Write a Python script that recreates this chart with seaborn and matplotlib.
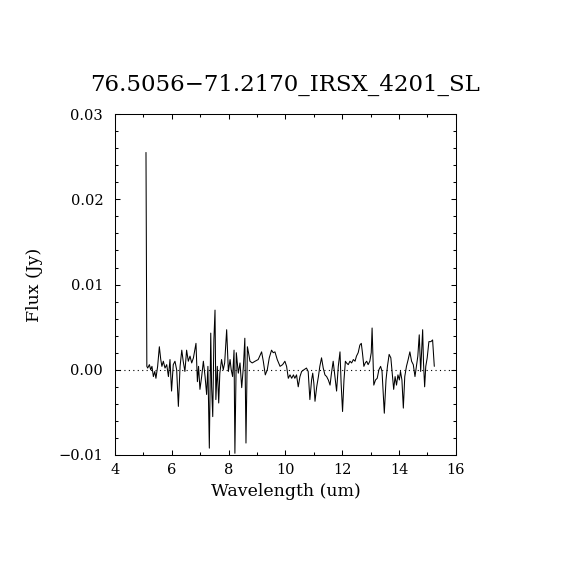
import numpy as np
import pandas as pd
import matplotlib
matplotlib.use("Agg")
import matplotlib.pyplot as plt
import seaborn as sns
from matplotlib.ticker import MultipleLocator

# spectrum (wavelength um, flux in mJy -> Jy below)
wave = [5.09, 5.12, 5.15, 5.21, 5.255, 5.30, 5.35, 5.40, 5.44, 5.50, 5.56, 5.61, 5.65, 5.70,
        5.76, 5.82, 5.88, 5.935, 5.99, 6.05, 6.11, 6.17, 6.23, 6.29, 6.35, 6.40, 6.46, 6.52,
        6.58, 6.64, 6.70, 6.76, 6.85, 6.90, 6.94, 6.99, 7.05, 7.11, 7.17, 7.225, 7.27, 7.32,
        7.37, 7.40, 7.44, 7.48, 7.52, 7.55, 7.60, 7.65, 7.69, 7.75, 7.81, 7.86, 7.93, 7.99,
        8.05, 8.09, 8.14, 8.19, 8.22, 8.27, 8.34, 8.40, 8.46, 8.52, 8.57, 8.61, 8.66, 8.70,
        8.75, 8.83, 8.93, 9.04, 9.16, 9.22, 9.29, 9.36, 9.43, 9.51, 9.57, 9.63, 9.71, 9.81,
        9.90, 9.98, 10.04, 10.10, 10.16, 10.22, 10.28, 10.33, 10.39, 10.45, 10.51, 10.57,
        10.65, 10.74, 10.80, 10.86, 10.92, 10.96, 11.00, 11.04, 11.10, 11.16, 11.21, 11.27,
        11.33, 11.39, 11.45, 11.51, 11.57, 11.62, 11.68, 11.74, 11.80, 11.86, 11.92, 11.96,
        12.01, 12.06, 12.11, 12.15, 12.21, 12.27, 12.33, 12.39, 12.45, 12.50, 12.56, 12.62,
        12.67, 12.71, 12.76, 12.81, 12.86, 12.91, 12.97, 13.02, 13.05, 13.11, 13.17, 13.23,
        13.29, 13.35, 13.40, 13.48, 13.54, 13.59, 13.65, 13.71, 13.77, 13.81, 13.86, 13.91,
        13.96, 14.01, 14.05, 14.10, 14.15, 14.20, 14.26, 14.32, 14.38, 14.44, 14.50, 14.56,
        14.61, 14.66, 14.71, 14.76, 14.79, 14.83, 14.86, 14.90, 14.94, 14.99, 15.05, 15.12,
        15.18, 15.24]
flux_mjy = [25.5, 0.4, 0.2, 0.6, 0.0, 0.4, -0.8, -0.2, -1.0, 0.4, 2.7, 1.2, 0.4, 1.0,
            0.2, 0.6, -0.8, 1.2, -2.5, 0.6, 1.0, 0.0, -4.3, 0.4, 2.3, 1.0, -0.2, 2.3,
            1.0, 1.6, 0.8, 1.4, 3.1, -1.4, 0.4, -2.3, -0.8, 1.0, -0.8, -2.9, 0.4, -9.2,
            4.3, -2.0, -5.5, 3.5, 7.0, -3.5, 0.4, -3.9, -0.4, 1.2, 0.0, 0.8, 4.7, -0.2,
            1.2, 0.0, -0.8, 2.3, -9.8, 2.0, -0.4, 0.8, -2.1, 0.4, 3.7, -8.6, 2.7, 2.0,
            1.0, 0.8, 1.0, 1.2, 2.1, 1.0, -0.6, 0.0, 1.4, 2.3, 2.0, 2.1, 1.2, 0.4,
            0.6, 1.0, 0.4, -1.0, -0.6, -1.0, -0.6, -1.0, -0.6, -2.0, -0.8, -0.2,
            0.0, 0.2, -0.2, -3.5, -1.2, -0.4, -1.6, -3.7, -2.0, -0.8, 0.4, 1.4,
            0.2, -0.6, -0.8, -1.2, -1.8, -0.4, 1.0, -0.8, -2.5, 0.4, 2.1, -1.6,
            -4.9, -1.2, 1.0, 0.8, 0.6, 1.0, 0.8, 1.2, 1.0, 1.6, 2.0, 2.9,
            3.1, 2.0, 0.4, 0.8, 1.0, 0.6, 1.0, 2.0, 4.9, -1.8, -1.2, -1.0,
            0.0, 0.4, -0.2, -5.1, -1.2, 0.4, 1.8, 1.4, -0.8, -2.3, -0.8, -1.8,
            -0.6, -1.2, -0.2, -1.2, -4.5, -0.8, 0.4, 1.2, 2.1, 1.0, 0.6, -0.8,
            0.4, 1.6, 4.1, -0.2, 2.0, 4.7, 0.8, -2.0, 0.4, 1.4, 3.3, 3.3,
            3.5, 0.4]

title = "76.5056\u221271.2170_IRSX_4201_SL"

df = pd.DataFrame({"wave": wave, "flux": np.array(flux_mjy) / 1000.0})

sns.set_style("ticks")
plt.rcParams["font.family"] = ["DejaVu Serif"]
plt.rcParams["text.color"] = "black"
plt.rcParams["axes.labelcolor"] = "black"

fig = plt.figure(figsize=(5.7, 5.7), dpi=100)
ax = fig.add_axes([0.2018, 0.2018, 0.598, 0.598])

sns.lineplot(data=df, x="wave", y="flux", sort=False, estimator=None,
             color="black", linewidth=0.75, ax=ax)
ax.axhline(0, color="black", linestyle=(0, (1, 3)), linewidth=0.8)

ax.set_xlim(4, 16)
ax.set_ylim(-0.01, 0.03)
ax.xaxis.set_major_locator(MultipleLocator(2))
ax.xaxis.set_minor_locator(MultipleLocator(1))
ax.yaxis.set_major_locator(MultipleLocator(0.01))
ax.yaxis.set_minor_locator(MultipleLocator(0.002))
ax.yaxis.set_major_formatter(plt.FuncFormatter(lambda v, p: f"{v:.2f}".replace("-", "\u2212")))
ax.tick_params(which="both", direction="in", top=True, right=True, colors="black",
               labelcolor="black", labelsize=10.5, width=0.75)
ax.tick_params(which="major", length=3.8)
ax.tick_params(which="minor", length=2.2)
ax.tick_params(axis="x", which="major", pad=6)
ax.tick_params(axis="y", which="major", pad=8.5)
for s in ax.spines.values():
    s.set_linewidth(0.75)
    s.set_color("black")

ax.set_xlabel("Wavelength (um)", fontsize=12.5, color="black")
ax.set_ylabel("Flux (Jy)", fontsize=12.5, color="black")
ax.xaxis.set_label_coords(0.5, -0.082)
ax.yaxis.set_label_coords(-0.21, 0.5)
ax.set_title(title, fontsize=16.5, pad=17, color="black")

fig.savefig("out.png", dpi=100, facecolor="white")
